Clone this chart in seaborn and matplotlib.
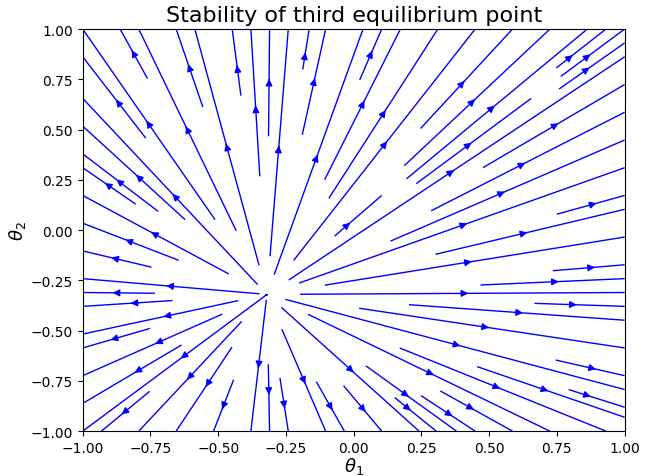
import numpy as np
import seaborn as sns
import matplotlib.pyplot as plt

sns.reset_defaults()

# Equilibrium point and linearised system (star node)
equilibrium = [-0.32, -0.32]
jacobian = [[1.0, 0.0],
            [0.0, 1.0]]
x_range = [-1.0, 1.0]
y_range = [-1.0, 1.0]
n_grid = 40

x = np.linspace(x_range[0], x_range[1], n_grid)
y = np.linspace(y_range[0], y_range[1], n_grid)
X, Y = np.meshgrid(x, y)
dX = X - equilibrium[0]
dY = Y - equilibrium[1]
U = jacobian[0][0] * dX + jacobian[0][1] * dY
V = jacobian[1][0] * dX + jacobian[1][1] * dY

fig, ax = plt.subplots(figsize=(6.46, 4.77), dpi=100)
fig.subplots_adjust(left=0.128, right=0.967, top=0.937, bottom=0.094)
ax.streamplot(X, Y, U, V, color='b', linewidth=1)

ax.set_xlim(x_range)
ax.set_ylim(y_range)
ax.set_title('Stability of third equilibrium point', fontsize=16)
ax.set_xlabel(r'$\theta_1$', fontsize=13, labelpad=0)
ax.set_ylabel(r'$\theta_2$', fontsize=13, labelpad=2)

plt.savefig('out.png', dpi=100)
plt.close()
